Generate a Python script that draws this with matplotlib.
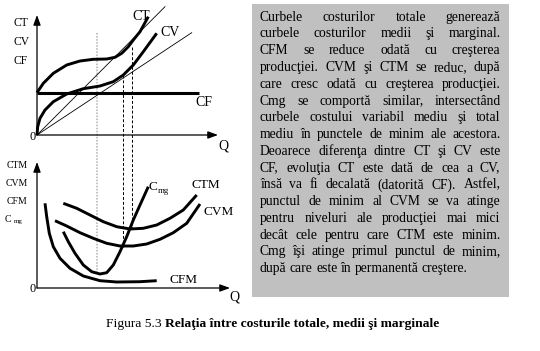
import matplotlib
matplotlib.use("Agg")
import matplotlib.pyplot as plt
from matplotlib.patches import Rectangle

plt.rcParams["font.family"] = ["Liberation Serif", "DejaVu Serif"]

# --- top panel: total, variable and fixed cost (Q, cost)
ct_q = [0, 6.3, 16.3, 29.7, 43, 56.3, 69.7, 78, 84.7, 91.3, 96.3, 103, 111.3]
ct_c = [42.3, 51.7, 61.7, 70, 74, 75.7, 76, 77.7, 81.7, 88.3, 95, 103.3, 118.3]
cv_q = [0, 0.7, 3, 8, 16.3, 29.7, 46.3, 63, 76.3, 86.3, 96.3, 106.3, 119.7]
cv_c = [0, 8.3, 16.7, 25, 33.3, 41, 46.3, 49, 53.3, 60, 70, 83.3, 101.7]
cf_q = [0, 162.3]
cf_c = [42.3, 42.3]
ray_ct_q = [0, 128]
ray_ct_c = [0, 128.3]
ray_cv_q = [0, 154.7]
ray_cv_c = [0, 102.3]

# --- bottom panel: average and marginal cost
cfm_q = [8, 9.7, 12.3, 16.3, 23, 33, 46.3, 63, 79.7, 103, 119.7]
cfm_c = [84.7, 71.3, 54.7, 41.3, 29.7, 19.7, 12, 7.3, 6, 6.3, 7.3]
cvm_q = [18, 29.7, 43, 56.3, 69.7, 83, 96.3, 109.7, 123, 136.3, 149.7, 163]
cvm_c = [67.3, 62, 55.3, 49.7, 44.7, 42, 42, 44, 48.7, 55.3, 64.7, 84]
ctm_q = [26.3, 39.7, 53, 66.3, 79.7, 93, 106.3, 119.7, 133, 146.3, 159.7]
ctm_c = [84.7, 79.7, 73, 66.3, 61.3, 59, 59.7, 63, 69.7, 78, 93]
cmg_q = [26.3, 31.3, 38, 46.3, 54.7, 63, 69.7, 76.3, 83, 89.7, 96.3, 103, 111.3]
cmg_c = [56.3, 46.3, 34.7, 23, 16.3, 14, 15.3, 23, 36.3, 51.3, 68, 83, 101.3]

# guide lines: Q, cost where it starts in the top panel, cost where it ends below
guide_q = [59.7, 85.7, 94.7]
guide_top = [101.7, 60, 88.3]
guide_bot = [16.3, 41.3, 59.7]

para_lines = [
    "Curbele costurilor totale generează",
    "curbele costurilor medii şi marginal.",
    "CFM se reduce odată cu creşterea",
    "producţiei. CVM şi CTM se reduc, după",
    "care cresc odată cu creşterea producţiei.",
    "Cmg se comportă similar, intersectând",
    "curbele costului variabil mediu şi total",
    "mediu în punctele de minim ale acestora.",
    "Deoarece diferenţa dintre CT şi CV este",
    "CF, evoluţia CT este dată de cea a CV,",
    "însă va fi decalată (datorită CF). Astfel,",
    "punctul de minim al CVM se va atinge",
    "pentru niveluri ale producţiei mai mici",
    "decât cele pentru care CTM este minim.",
    "Cmg îşi atinge primul punctul de minim,",
    "după care este în permanentă creştere.",
]
caption_plain = "Figura 5.3 "
caption_bold = "Relaţia între costurile totale, medii şi marginale"

fig = plt.figure(figsize=(5.4, 3.51), dpi=100)
ax = fig.add_axes([0, 0, 1, 1])
ax.set_xlim(0, 540)
ax.set_ylim(351, 0)
ax.axis("off")

TOP = (37, 135)
BOT = (37, 288)


def px(origin, q, c):
    return [origin[0] + v for v in q], [origin[1] - v for v in c]


def axis_arrow(origin, q_end, c_end):
    ax.annotate("", xy=(origin[0] + q_end, origin[1] - c_end), xytext=origin,
                arrowprops=dict(arrowstyle="-|>,head_length=0.6,head_width=0.22",
                                lw=0.9, color="black", shrinkA=0, shrinkB=0,
                                mutation_scale=10))


# axes
axis_arrow(TOP, 0, 120)
axis_arrow(TOP, 181, 0)
axis_arrow(BOT, 0, 126)
axis_arrow(BOT, 193, 0)

# guide lines
for q, ct, cb in zip(guide_q, guide_top, guide_bot):
    xs, ys = [TOP[0] + q, BOT[0] + q], [TOP[1] - ct, BOT[1] - cb]
    if q == guide_q[0]:
        ax.plot(xs, ys, color="#b0b0b0", lw=1.1, ls=(0, (1, 1)))
    else:
        ax.plot(xs, ys, color="black", lw=0.7, ls=(0, (3, 2)))

# top curves
ax.plot(*px(TOP, ray_ct_q, ray_ct_c), color="black", lw=0.6)
ax.plot(*px(TOP, ray_cv_q, ray_cv_c), color="black", lw=0.6)
ax.plot(*px(TOP, cf_q, cf_c), color="black", lw=2.2, solid_capstyle="butt")
ax.plot(*px(TOP, ct_q, ct_c), color="black", lw=2.1, solid_capstyle="butt")
ax.plot(*px(TOP, cv_q, cv_c), color="black", lw=2.1, solid_capstyle="butt")

# bottom curves
for q, c in [(cfm_q, cfm_c), (cvm_q, cvm_c), (ctm_q, ctm_c), (cmg_q, cmg_c)]:
    ax.plot(*px(BOT, q, c), color="black", lw=2.1, solid_capstyle="butt")

# labels
lab = dict(ha="center", va="center", color="black")
for s, y in [("CT", 23), ("CV", 42), ("CF", 61)]:
    ax.text(21, y, s, fontsize=8.3, **lab)
ax.text(33, 137, "0", fontsize=8.8, **lab)
ax.text(223, 146, "Q", fontsize=10, **lab)
ax.text(141, 16, "CT", fontsize=10, **lab)
ax.text(170, 33, "CV", fontsize=10, **lab)
ax.text(204, 102, "CF", fontsize=10, **lab)

for s, y in [("CTM", 166), ("CVM", 184), ("CFM", 202)]:
    ax.text(17, y, s, fontsize=7, **lab)
ax.text(8, 219, "C", fontsize=7, **lab)
ax.text(18, 222, "mg", fontsize=5, **lab)
ax.text(33, 289, "0", fontsize=8.8, **lab)
ax.text(234, 297, "Q", fontsize=10, **lab)
ax.text(153, 187, "C", fontsize=9.5, **lab)
ax.text(163, 191, "mg", fontsize=6.3, **lab)
ax.text(206, 185, "CTM", fontsize=9.5, **lab)
ax.text(219, 212, "CVM", fontsize=9.5, **lab)
ax.text(184, 280, "CFM", fontsize=9.5, **lab)

# text box with justified paragraph
ax.add_patch(Rectangle((252, 4), 257, 293, facecolor="#c0c0c0", edgecolor="none"))
renderer = fig.canvas.get_renderer()
left, right = 260, 500.5
fs = 9.8
t1 = ax.text(0, 0, "a a", fontsize=fs)
t2 = ax.text(0, 0, "aa", fontsize=fs)
space = t1.get_window_extent(renderer).width - t2.get_window_extent(renderer).width
t1.remove()
t2.remove()
for i, line in enumerate(para_lines):
    y = 20.7 + i * 16.77
    words = line.split()
    texts = [ax.text(0, y, w, fontsize=fs, va="baseline", ha="left") for w in words]
    widths = [t.get_window_extent(renderer).width for t in texts]
    if i == len(para_lines) - 1:
        gap = space
    else:
        gap = max(space * 0.5, (right - left - sum(widths)) / (len(words) - 1))
    x = left
    for t, w in zip(texts, widths):
        t.set_x(x)
        x += w + gap

# caption
cap = ax.text(106, 327.5, caption_plain, fontsize=9.7, va="baseline", ha="left")
w = cap.get_window_extent(renderer).width
ax.text(106 + w, 327.5, caption_bold, fontsize=9.7, fontweight="bold",
        va="baseline", ha="left")

fig.savefig("out.png", dpi=100)
